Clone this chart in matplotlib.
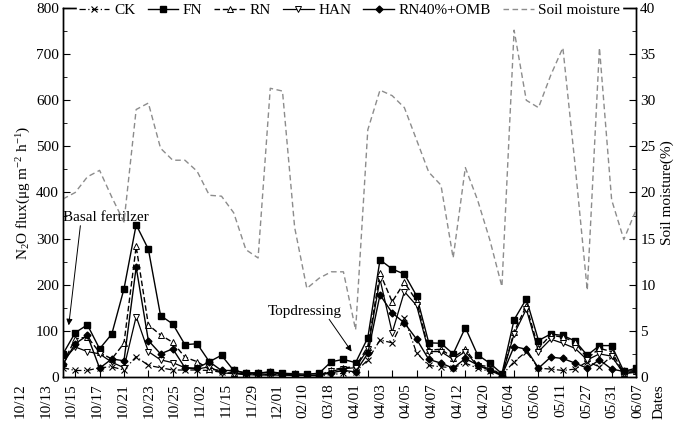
import numpy as np
import matplotlib
matplotlib.use("Agg")
import matplotlib.pyplot as plt
from matplotlib.ticker import MultipleLocator
import matplotlib.transforms as mtransforms

plt.rcParams['font.family'] = ['Liberation Serif', 'DejaVu Serif']
plt.rcParams['mathtext.fontset'] = 'custom'
plt.rcParams['mathtext.rm'] = 'Liberation Serif'
plt.rcParams['mathtext.it'] = 'Liberation Serif:italic'

# date labels (shown every other sampling)
dates = ['10/12', '10/13', '10/15', '10/17', '10/21', '10/23', '10/25', '11/02',
         '11/15', '11/29', '12/01', '02/10', '03/18', '04/01', '04/03', '04/05',
         '04/07', '04/12', '04/20', '05/04', '05/06', '05/11', '05/27', '05/31',
         '06/07']

# N2O flux, ug m-2 h-1 (48 samplings)
ck = [20, 14, 14, 20, 22, 15, 44, 25, 20, 15, 15, 15, 14, 10, 8, 6, 5, 5, 4, 4,
      3, 3, 5, 8, 11, 37, 80, 74, 128, 52, 25, 22, 20, 30, 19, 12, 4, 33, 55, 19,
      17, 14, 17, 33, 22, 45, 8, 12]
fn = [50, 96, 113, 61, 93, 191, 330, 277, 133, 115, 70, 72, 33, 47, 14, 8, 8, 11,
      8, 7, 6, 8, 33, 38, 31, 85, 254, 234, 223, 176, 74, 73, 50, 107, 48, 30, 7,
      124, 169, 79, 93, 90, 78, 47, 68, 68, 12, 19]
rn = [30, 82, 87, 53, 39, 73, 283, 113, 91, 75, 43, 33, 17, 14, 9, 6, 6, 6, 5, 4,
      3, 3, 15, 20, 22, 66, 225, 163, 205, 165, 58, 60, 42, 60, 26, 22, 3, 98, 154,
      62, 91, 86, 76, 40, 62, 55, 8, 12]
han = [35, 65, 55, 50, 32, 20, 131, 55, 37, 31, 20, 17, 22, 9, 7, 5, 4, 4, 4, 3,
       3, 3, 12, 18, 20, 60, 212, 96, 185, 155, 55, 55, 38, 55, 24, 18, 3, 93, 147,
       55, 82, 73, 62, 37, 50, 45, 7, 10]
omb = [28, 72, 90, 19, 39, 35, 238, 79, 50, 61, 20, 19, 33, 14, 14, 9, 9, 10, 6, 4,
       4, 4, 9, 14, 11, 51, 178, 139, 117, 82, 38, 30, 19, 40, 26, 14, 3, 66, 60, 19,
       43, 40, 30, 19, 37, 17, 12, 14]

# soil moisture, %
soil = [19.3, 20.0, 21.7, 22.4, 19.5, 16.8, 29.0, 29.7, 24.8, 23.5, 23.5, 22.3,
        19.7, 19.6, 17.8, 13.8, 12.9, 31.3, 31.0, 16.2, 9.6, 10.7, 11.4, 11.4, 5.1,
        26.8, 31.1, 30.5, 29.2, 25.7, 22.2, 20.8, 12.9, 22.7, 19.2, 14.9, 9.8, 37.6,
        30.0, 29.2, 32.7, 35.7, 23.0, 9.4, 35.7, 19.2, 14.9, 18.1]

x = np.arange(len(fn))

fig = plt.figure(figsize=(6.85, 4.24), dpi=100)
ax = fig.add_axes([0.092, 0.111, 0.8365, 0.870])
ax2 = ax.twinx()

ms = 4
h_ck, = ax.plot(x, ck, linestyle=(0, (5, 2, 1, 2)), color='k', lw=0.9,
                marker='x', ms=ms, mew=0.8, label='CK')
h_fn, = ax.plot(x, fn, '-', color='k', lw=1.0, marker='s', ms=ms,
                mfc='k', label='FN')
h_rn, = ax.plot(x, rn, linestyle=(0, (4, 2)), color='k', lw=1.0, marker='^',
                ms=ms + 0.5, mfc='white', mew=0.7, label='RN')
h_han, = ax.plot(x, han, '-', color='k', lw=0.9, marker='v', ms=ms + 0.5,
                 mfc='white', mew=0.7, label='HAN')
h_omb, = ax.plot(x, omb, '-', color='k', lw=1.0, marker='D', ms=ms - 0.5,
                 mfc='k', label='RN40%+OMB')
h_soil, = ax2.plot(x, soil, linestyle=(0, (4, 2.5)), color='#8c8c8c', lw=1.0,
                   label='Soil moisture')

ax.set_xlim(0, len(fn) - 1)
ax.set_ylim(0, 800)
ax2.set_ylim(0, 40)

ax.yaxis.set_major_locator(MultipleLocator(100))
ax.yaxis.set_minor_locator(MultipleLocator(50))
ax2.yaxis.set_major_locator(MultipleLocator(5))
ax2.yaxis.set_minor_locator(MultipleLocator(2.5))
ax.set_xticks(x[1::2])
ax.set_xticklabels([])

ax.tick_params(axis='y', which='major', direction='in', length=5, labelsize=11, pad=3)
ax.tick_params(axis='y', which='minor', direction='in', length=3)
ax.tick_params(axis='x', which='major', direction='in', length=5)
ax2.tick_params(axis='y', which='major', direction='in', length=5, labelsize=11, pad=3)
ax2.tick_params(axis='y', which='minor', direction='in', length=3)
for a in (ax, ax2):
    for s in a.spines.values():
        s.set_linewidth(1.0)

# date labels spread below the axis
trans = mtransforms.blended_transform_factory(ax.transAxes, ax.transAxes)
pos = np.linspace(-0.075, 1.0035, len(dates))
for p, d in zip(pos, dates):
    ax.text(p, -0.016, d, rotation=90, ha='center', va='top', fontsize=11,
            transform=trans)
fig.text(0.962, 0.012, 'Dates', rotation=90, ha='center', va='bottom', fontsize=11)

ax.set_ylabel('N$_2$O flux(μg m$^{-2}$ h$^{-1}$)', fontsize=11, labelpad=2)
ax2.set_ylabel('Soil moisture(%)', fontsize=11, labelpad=4)

# annotations
ax.text(0.0, 345, 'Basal fertilzer', fontsize=11, ha='left', va='center')
ax.annotate('', xy=(0.44, 106), xytext=(1.45, 334),
            arrowprops=dict(arrowstyle='-|>', color='k', lw=0.7, mutation_scale=9))
ax.text(19.85, 141, 'Topdressing', fontsize=11, ha='center', va='center')
ax.annotate('', xy=(23.8, 50), xytext=(21.7, 130),
            arrowprops=dict(arrowstyle='-|>', color='k', lw=0.7, mutation_scale=9))

leg = ax2.legend([h_ck, h_fn, h_rn, h_han, h_omb, h_soil],
                 ['CK', 'FN', 'RN', 'HAN', 'RN40%+OMB', 'Soil moisture'],
                 loc='center', bbox_to_anchor=(0.5, 0.993), ncol=6, fontsize=11,
                 frameon=True, facecolor='white', edgecolor='white', framealpha=1,
                 handlelength=2.0, handletextpad=0.3, columnspacing=0.8,
                 borderpad=0.15, fancybox=False)

fig.savefig('out.png', dpi=100)
